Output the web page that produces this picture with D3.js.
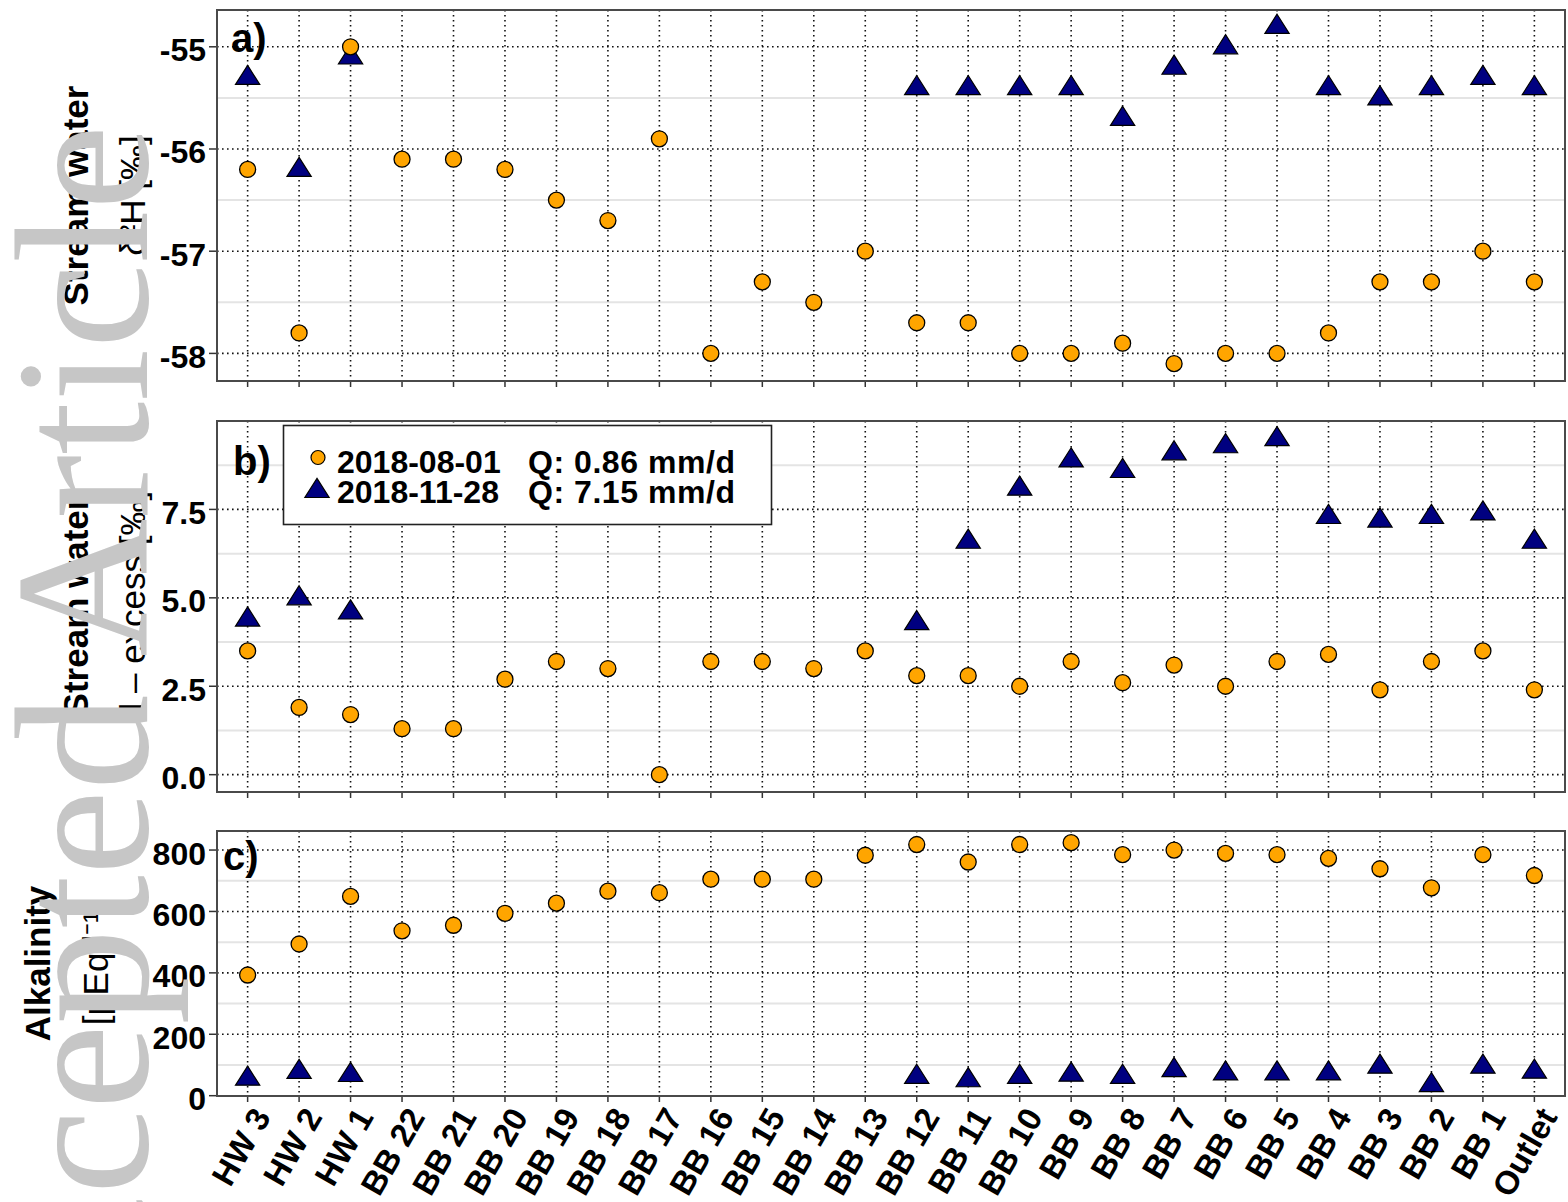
<!DOCTYPE html>
<html>
<head>
<meta charset="utf-8">
<script src="https://cdn.jsdelivr.net/npm/d3@7"></script>
<style>
  body { margin: 0; background: #fff; }
</style>
</head>
<body>
<svg id="fig" width="1568" height="1202"></svg>
<script>
// Sampling sites along the stream, headwaters to outlet
const sites = ["HW 3", "HW 2", "HW 1", "BB 22", "BB 21", "BB 20", "BB 19", "BB 18", "BB 17",
  "BB 16", "BB 15", "BB 14", "BB 13", "BB 12", "BB 11", "BB 10", "BB 9", "BB 8", "BB 7",
  "BB 6", "BB 5", "BB 4", "BB 3", "BB 2", "BB 1", "Outlet"];

// Campaign labels (legend)
const campaigns = ["2018-08-01", "2018-11-28"];
const discharge = ["Q: 0.86 mm/d", "Q: 7.15 mm/d"];

// a) stream water δ2H [‰]
const d2H_aug = [-56.2, -57.8, -55.0, -56.1, -56.1, -56.2, -56.5, -56.7, -55.9, -58.0, -57.3, -57.5, -57.0,
  -57.7, -57.7, -58.0, -58.0, -57.9, -58.1, -58.0, -58.0, -57.8, -57.3, -57.3, -57.0, -57.3];
const d2H_nov = [-55.3, -56.2, -55.1, null, null, null, null, null, null, null, null, null, null,
  -55.4, -55.4, -55.4, -55.4, -55.7, -55.2, -55.0, -54.8, -55.4, -55.5, -55.4, -55.3, -55.4];

// b) stream water d-excess [‰]
const dex_aug = [3.5, 1.9, 1.7, 1.3, 1.3, 2.7, 3.2, 3.0, 0.0, 3.2, 3.2, 3.0, 3.5,
  2.8, 2.8, 2.5, 3.2, 2.6, 3.1, 2.5, 3.2, 3.4, 2.4, 3.2, 3.5, 2.4];
const dex_nov = [4.4, 5.0, 4.6, null, null, null, null, null, null, null, null, null, null,
  4.3, 6.6, 8.1, 8.9, 8.6, 9.1, 9.3, 9.5, 7.3, 7.2, 7.3, 7.4, 6.6];

// c) alkalinity [µEq/l]
const alk_aug = [393, 494, 649, 537, 555, 594, 627, 666, 661, 705, 705, 705, 783,
  818, 761, 818, 824, 785, 800, 789, 785, 773, 739, 677, 785, 717];
const alk_nov = [57, 79, 69, null, null, null, null, null, null, null, null, null, null,
  63, 52, 63, 70, 63, 85, 74, 74, 74, 96, 36, 96, 80];

// Axis ticks
const ticksA = [-58, -57, -56, -55];
const ticksB = [0, 2.5, 5, 7.5];
const ticksC = [0, 200, 400, 600, 800];

const SANS = "Liberation Sans, Arial, sans-serif";

const svg = d3.select("#fig");
const X0 = 217, X1 = 1565;
const x = d3.scalePoint().domain(sites).range([X0, X1]).padding(0.595);

const ORANGE = "#FFA500", NAVY = "#000080";

// Upward triangle with the anchor point placed like a plotting-device triangle
const triSymbol = {
  draw(ctx, size) {
    const xc = Math.sqrt(size);
    const r = 0.866 * xc, yc = 0.5 * xc;
    ctx.moveTo(0, -r);
    ctx.lineTo(r, yc);
    ctx.lineTo(-r, yc);
    ctx.closePath();
  }
};
const triPath = d3.symbol().type(triSymbol).size(14 * 14)();

const panels = [
  { label: "a)", top: 10, bottom: 381, domain: [-58.27, -54.64], ticks: ticksA,
    minor: [-57.5, -56.5, -55.5], fmt: d => String(d), aug: d2H_aug, nov: d2H_nov,
    title: ["Stream water", "δ²H [‰]"], tx: [88, 145], lab: [231, 52] },
  { label: "b)", top: 421, bottom: 792, domain: [-0.49, 10.0], ticks: ticksB,
    minor: [1.25, 3.75, 6.25, 8.75], fmt: d => d.toFixed(1), aug: dex_aug, nov: dex_nov,
    title: ["Stream water", "d – excess [‰]"], tx: [88, 145], lab: [233, 475] },
  { label: "c)", top: 831, bottom: 1096, domain: [-1, 862], ticks: ticksC,
    minor: [100, 300, 500, 700], fmt: d => String(d), aug: alk_aug, nov: alk_nov,
    title: ["Alkalinity", "[µEq.l⁻¹]"], tx: [50, 108], lab: [223, 870] }
];

panels.forEach((p, pi) => {
  const y = d3.scaleLinear().domain(p.domain).range([p.bottom, p.top]);
  const g = svg.append("g");

  // light minor grid
  g.selectAll(".minor").data(p.minor).join("line")
    .attr("x1", X0).attr("x2", X1)
    .attr("y1", d => y(d)).attr("y2", d => y(d))
    .attr("stroke", "#e4e4e4").attr("stroke-width", 2);

  // dotted major grid
  g.selectAll(".hgrid").data(p.ticks).join("line")
    .attr("x1", X0).attr("x2", X1)
    .attr("y1", d => y(d)).attr("y2", d => y(d))
    .attr("stroke", "#111").attr("stroke-width", 1.6).attr("stroke-dasharray", "1.6 3.4");
  g.selectAll(".vgrid").data(sites).join("line")
    .attr("x1", d => x(d)).attr("x2", d => x(d))
    .attr("y1", p.top).attr("y2", p.bottom)
    .attr("stroke", "#111").attr("stroke-width", 1.6).attr("stroke-dasharray", "1.6 3.4");

  // y axis ticks and labels
  g.selectAll(".ytick").data(p.ticks).join("line")
    .attr("x1", X0 - 8).attr("x2", X0)
    .attr("y1", d => y(d)).attr("y2", d => y(d))
    .attr("stroke", "#333").attr("stroke-width", 1.5);
  g.selectAll(".ylab").data(p.ticks).join("text")
    .attr("x", 206).attr("y", d => y(d) + 14.5)
    .attr("text-anchor", "end").attr("font-family", SANS)
    .attr("font-weight", "bold").attr("font-size", 32)
    .attr("fill", "#000").text(p.fmt);

  // x axis ticks
  g.selectAll(".xtick").data(sites).join("line")
    .attr("x1", d => x(d)).attr("x2", d => x(d))
    .attr("y1", p.bottom).attr("y2", p.bottom + 6)
    .attr("stroke", "#333").attr("stroke-width", 1.5);

  // frame
  g.append("rect")
    .attr("x", X0).attr("y", p.top).attr("width", X1 - X0).attr("height", p.bottom - p.top)
    .attr("fill", "none").attr("stroke", "#4a4a4a").attr("stroke-width", 2);

  // November campaign triangles
  g.selectAll(".nov").data(p.nov.map((v, i) => ({ s: sites[i], v })).filter(d => d.v !== null))
    .join("path")
    .attr("d", triPath)
    .attr("transform", d => `translate(${x(d.s)},${y(d.v)})`)
    .attr("fill", NAVY).attr("stroke", "#000").attr("stroke-width", 1.2);

  // August campaign circles
  g.selectAll(".aug").data(p.aug.map((v, i) => ({ s: sites[i], v })).filter(d => d.v !== null))
    .join("circle")
    .attr("cx", d => x(d.s)).attr("cy", d => y(d.v)).attr("r", 8)
    .attr("fill", ORANGE).attr("stroke", "#000").attr("stroke-width", 1.3);

  // panel letter
  g.append("text").attr("x", p.lab[0]).attr("y", p.lab[1])
    .attr("font-family", SANS).attr("font-weight", "bold").attr("font-size", 40).text(p.label);

  // axis title (two lines)
  const cy = (p.top + p.bottom) / 2;
  g.append("text").attr("transform", `translate(${p.tx[0]},${cy}) rotate(-90)`)
    .attr("text-anchor", "middle").attr("font-family", SANS)
    .attr("font-weight", "bold").attr("font-size", 35)
    .text(p.title[0]);
  g.append("text").attr("transform", `translate(${p.tx[1]},${cy}) rotate(-90)`)
    .attr("text-anchor", "middle").attr("font-family", SANS).attr("font-size", 35)
    .text(p.title[1]);

  // site labels under the last panel
  if (pi === panels.length - 1) {
    g.selectAll(".xlab").data(sites).join("text")
      .attr("transform", d => `translate(${x(d) + 14},1111) rotate(-60)`)
      .attr("text-anchor", "end").attr("dominant-baseline", "central")
      .attr("font-family", SANS).attr("font-weight", "bold").attr("font-size", 33)
      .text(d => d);
  }
});

// legend in panel b
const leg = svg.append("g");
leg.append("rect").attr("x", 283.5).attr("y", 425.5).attr("width", 488).attr("height", 99)
  .attr("fill", "#fff").attr("stroke", "#222").attr("stroke-width", 1.6);
leg.append("circle").attr("cx", 318).attr("cy", 457.5).attr("r", 7)
  .attr("fill", ORANGE).attr("stroke", "#000").attr("stroke-width", 1.2);
leg.append("path").attr("d", triPath).attr("transform", "translate(317,490.5)")
  .attr("fill", NAVY).attr("stroke", "#000").attr("stroke-width", 1.2);
campaigns.forEach((c, i) => {
  leg.append("text").attr("x", 337).attr("y", 473 + i * 30)
    .attr("font-family", SANS).attr("font-weight", "bold").attr("font-size", 32).text(c);
  leg.append("text").attr("x", 528).attr("y", 473 + i * 30)
    .attr("font-family", SANS).attr("font-weight", "bold").attr("font-size", 32)
    .attr("textLength", 207).text(discharge[i]);
});

// pick an installed serif face for the watermark
function fontInstalled(name) {
  const ctx = document.createElement("canvas").getContext("2d");
  const probe = "Accepted Article mmwwiill";
  ctx.font = "72px monospace";
  const base = ctx.measureText(probe).width;
  ctx.font = `72px "${name}", monospace`;
  return ctx.measureText(probe).width !== base;
}
const serifFaces = [["Liberation Serif", 190], ["DejaVu Serif", 166], ["Noto Serif", 170], ["Times New Roman", 190]];
const wm = serifFaces.find(f => fontInstalled(f[0])) || ["serif", 180];

// journal watermark running up the left margin
svg.append("text")
  .attr("transform", "translate(147,1418) rotate(-90)")
  .style("font-family", `"${wm[0]}", serif`)
  .attr("font-size", wm[1]).attr("fill", "#c6c6c6")
  .attr("textLength", 1293).attr("lengthAdjust", "spacingAndGlyphs")
  .text("Accepted Article");
</script>
</body>
</html>
